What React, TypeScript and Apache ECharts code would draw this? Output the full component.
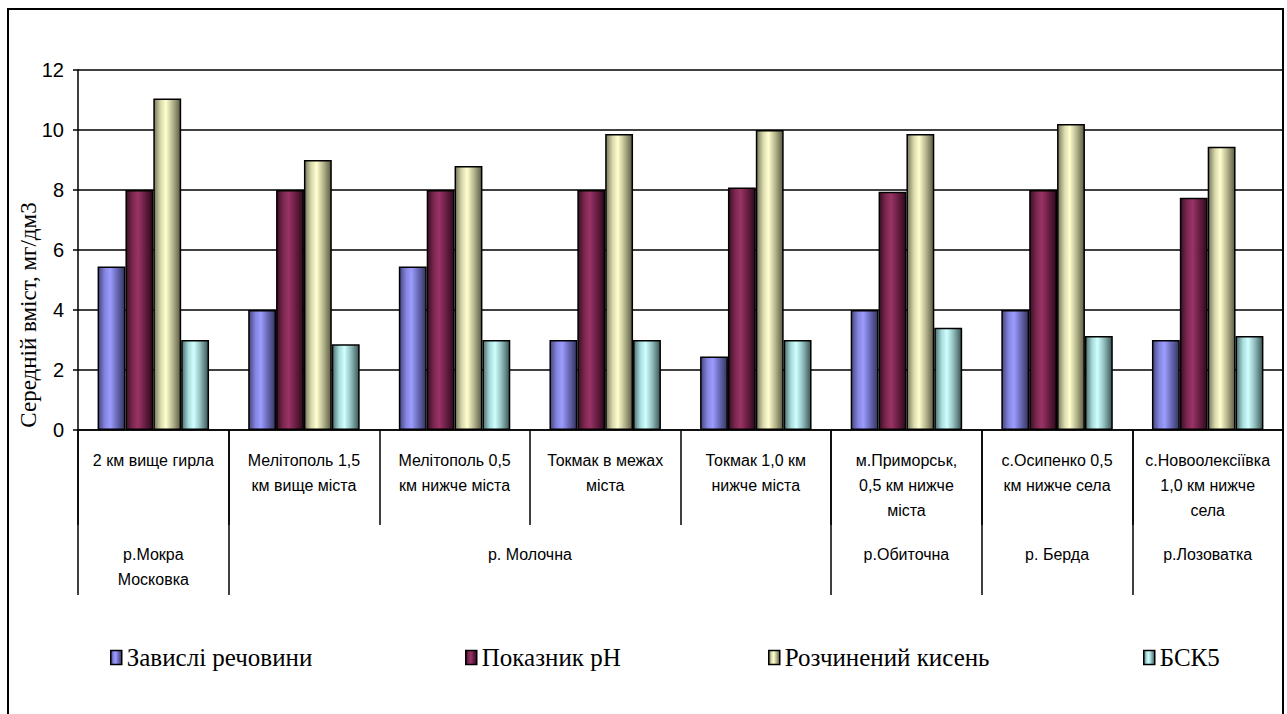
import React, { useEffect, useRef } from "react";
import * as echarts from "echarts";

const categories = [
  "2 км вище гирла",
  "Мелітополь 1,5\nкм вище міста",
  "Мелітополь 0,5\nкм нижче міста",
  "Токмак в межах\nміста",
  "Токмак 1,0 км\nнижче міста",
  "м.Приморськ,\n0,5 км нижче\nміста",
  "с.Осипенко 0,5\nкм нижче села",
  "с.Новоолексіївка\n1,0 км нижче\nсела",
];

const rivers = ["р.Мокра\nМосковка", "р. Молочна", "р.Обиточна", "р. Берда", "р.Лозоватка"];
const riverStart = [0, 1, 5, 6, 7];
const riverEnd = [1, 5, 6, 7, 8];

const seriesNames = ["Завислі речовини", "Показник рН", "Розчинений кисень", "БСК5"];
const suspended = [5.45, 4.0, 5.45, 3.0, 2.45, 4.0, 4.0, 3.0];
const ph = [8.0, 8.0, 8.0, 8.0, 8.08, 7.94, 8.0, 7.74];
const oxygen = [11.05, 9.0, 8.8, 9.87, 10.0, 9.87, 10.2, 9.44];
const bod5 = [3.0, 2.86, 3.0, 3.0, 3.0, 3.41, 3.13, 3.13];

const yTitle = "Середній вміст, мг/дм3";
const yTicks = [0, 2, 4, 6, 8, 10, 12];

const palettes = [
  ["#45457f", "#8585e0", "#9c9cff", "#6a6ab8", "#35355f"],
  ["#3a0f25", "#7d2850", "#9a3366", "#6a1f44", "#2e0a1c"],
  ["#77775c", "#d8d8ac", "#ffffd0", "#b8b890", "#5c5c45"],
  ["#4f6e6e", "#a8dcdc", "#d0ffff", "#90bcbc", "#3c5555"],
];

function grad(p: string[]) {
  return new echarts.graphic.LinearGradient(0, 0, 1, 0, [
    { offset: 0, color: p[0] },
    { offset: 0.25, color: p[1] },
    { offset: 0.45, color: p[2] },
    { offset: 0.7, color: p[3] },
    { offset: 1, color: p[4] },
  ]);
}

const SERIF = "Liberation Serif";

export default function App() {
  const ref = useRef<HTMLDivElement>(null);
  useEffect(() => {
    if (!ref.current) return;
    const chart = echarts.init(ref.current, undefined, { renderer: "svg" });
    const data = [suspended, ph, oxygen, bod5];
    const legendLefts = [105, 460, 763, 1138];
    const midpoints = riverStart.map((s, i) => (s + riverEnd[i]) / 2);
    const bounds = Array.from(new Set([...riverStart, ...riverEnd]));
    chart.setOption({
      animation: false,
      backgroundColor: "#ffffff",
      textStyle: { fontFamily: SERIF },
      grid: { left: 78, right: 4, top: 70, bottom: 284, containLabel: false },
      legend: seriesNames.map((n, i) => ({
        data: [n],
        left: legendLefts[i],
        top: 640,
        icon: "rect",
        itemWidth: 11,
        itemHeight: 14,
        itemGap: 6,
        textStyle: { fontFamily: SERIF, fontSize: 25, color: "#000" },
        itemStyle: { borderColor: "#000", borderWidth: 1.5 },
        selectedMode: false,
      })),
      xAxis: [
        {
          type: "category",
          data: categories,
          boundaryGap: true,
          axisLine: { show: true, lineStyle: { color: "#000", width: 1.5 } },
          axisTick: { show: true, interval: 0, length: 95, lineStyle: { color: "#000", width: 1.5 } },
          axisLabel: {
            interval: 0,
            margin: 18,
            fontFamily: "Liberation Sans",
            fontSize: 16,
            lineHeight: 25,
            color: "#000",
            align: "center",
          },
        },
        {
          type: "value",
          min: 0,
          max: 8,
          position: "bottom",
          axisLine: { show: false },
          splitLine: { show: false },
          axisTick: {
            show: true,
            customValues: bounds,
            length: 165,
            lineStyle: { color: "#000", width: 1.5 },
          },
          axisLabel: {
            customValues: midpoints,
            margin: 112,
            fontFamily: "Liberation Sans",
            fontSize: 16,
            lineHeight: 25,
            color: "#000",
            formatter: (v: number) => {
              const idx = midpoints.findIndex((m) => Math.abs(m - v) < 1e-6);
              return idx >= 0 ? rivers[idx] : "";
            },
          },
        },
      ],
      yAxis: {
        type: "value",
        min: 0,
        max: 12,
        interval: 2,
        axisLine: { show: true, lineStyle: { color: "#000", width: 1.5 } },
        axisTick: { show: true, length: 5, lineStyle: { color: "#000", width: 1.5 } },
        axisLabel: {
          margin: 14,
          fontFamily: "Liberation Sans",
          fontSize: 20,
          color: "#000",
          formatter: (v: number) => (yTicks.includes(v) ? String(v) : ""),
        },
        splitLine: { show: true, lineStyle: { color: "#000", width: 1.5 } },
      },
      graphic: [
        {
          type: "rect",
          shape: { x: 8, y: 9, width: 1275, height: 720 },
          style: { fill: "none", stroke: "#000", lineWidth: 2 },
          silent: true,
        },
        {
          type: "text",
          x: 28,
          y: 315,
          rotation: Math.PI / 2,
          style: {
            text: yTitle,
            fontFamily: SERIF,
            fontSize: 23,
            fill: "#000",
            align: "center",
            verticalAlign: "middle",
          },
        },
      ],
      series: seriesNames.map((n, i) => ({
        name: n,
        type: "bar",
        data: data[i],
        barGap: "0%",
        barCategoryGap: "26%",
        itemStyle: { color: grad(palettes[i]), borderColor: "#000", borderWidth: 1.5 },
      })),
    });
    return () => chart.dispose();
  }, []);
  return (
    <div
      ref={ref}
      style={{ position: "fixed", left: 0, top: 0, width: 1287, height: 714, background: "#fff" }}
    />
  );
}
